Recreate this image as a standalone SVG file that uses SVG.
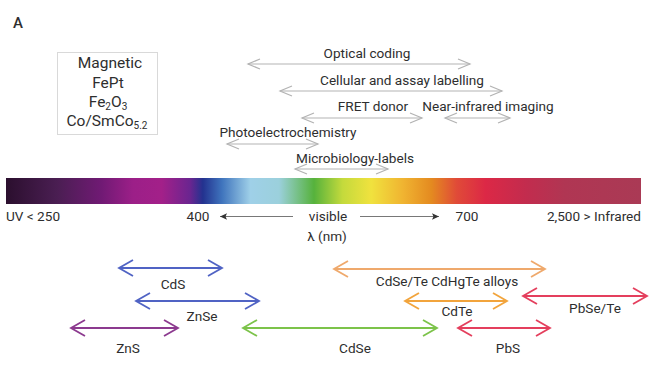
<svg xmlns="http://www.w3.org/2000/svg" width="650" height="385" viewBox="0 0 650 385">
<style>
text{font-family:Roboto,"Liberation Sans",sans-serif;fill:#2e2e2e;font-size:13.6px;text-anchor:middle}
.mag{font-size:15.5px}
.g{stroke:#b3b3b3;stroke-width:1.2;fill:none}
.c{stroke-width:1.8;fill:none}
</style>
<defs>
<linearGradient id="spec" x1="6" x2="641" y1="0" y2="0" gradientUnits="userSpaceOnUse">
<stop offset="0" stop-color="#2b0f2e"/>
<stop offset="0.08" stop-color="#4a1e52"/>
<stop offset="0.15" stop-color="#701a74"/>
<stop offset="0.2" stop-color="#9c1f88"/>
<stop offset="0.245" stop-color="#a32089"/>
<stop offset="0.29" stop-color="#6a2590"/>
<stop offset="0.31" stop-color="#23328f"/>
<stop offset="0.34" stop-color="#3f74bd"/>
<stop offset="0.385" stop-color="#9fd0e8"/>
<stop offset="0.43" stop-color="#9bd0dc"/>
<stop offset="0.485" stop-color="#56b23c"/>
<stop offset="0.53" stop-color="#c4da3c"/>
<stop offset="0.575" stop-color="#f0e23e"/>
<stop offset="0.625" stop-color="#f0b431"/>
<stop offset="0.67" stop-color="#e48a20"/>
<stop offset="0.71" stop-color="#e04a38"/>
<stop offset="0.755" stop-color="#dc2846"/>
<stop offset="0.82" stop-color="#c22c4e"/>
<stop offset="0.88" stop-color="#b03653"/>
<stop offset="1" stop-color="#aa3a55"/>
</linearGradient>
<marker id="mg" viewBox="-14 -7 16 14" refX="0" refY="0" markerWidth="16" markerHeight="14" markerUnits="userSpaceOnUse" orient="auto-start-reverse"><path d="M-12,-5 L0,0 L-12,5" fill="none" stroke="#b3b3b3" stroke-width="1.2"/></marker>
<marker id="mb" viewBox="-16 -10 18 20" refX="0" refY="0" markerWidth="18" markerHeight="20" markerUnits="userSpaceOnUse" orient="auto-start-reverse"><path d="M-14,-8 L0,0 L-14,8" fill="none" stroke="#5063c4" stroke-width="1.8"/></marker>
<marker id="mp" viewBox="-16 -10 18 20" refX="0" refY="0" markerWidth="18" markerHeight="20" markerUnits="userSpaceOnUse" orient="auto-start-reverse"><path d="M-14,-8 L0,0 L-14,8" fill="none" stroke="#8c3a8f" stroke-width="1.8"/></marker>
<marker id="mgr" viewBox="-16 -10 18 20" refX="0" refY="0" markerWidth="18" markerHeight="20" markerUnits="userSpaceOnUse" orient="auto-start-reverse"><path d="M-14,-8 L0,0 L-14,8" fill="none" stroke="#7cc34a" stroke-width="1.8"/></marker>
<marker id="mlo" viewBox="-16 -10 18 20" refX="0" refY="0" markerWidth="18" markerHeight="20" markerUnits="userSpaceOnUse" orient="auto-start-reverse"><path d="M-14,-8 L0,0 L-14,8" fill="none" stroke="#efa96c" stroke-width="1.8"/></marker>
<marker id="mo" viewBox="-16 -10 18 20" refX="0" refY="0" markerWidth="18" markerHeight="20" markerUnits="userSpaceOnUse" orient="auto-start-reverse"><path d="M-14,-8 L0,0 L-14,8" fill="none" stroke="#f2a43c" stroke-width="1.8"/></marker>
<marker id="mr" viewBox="-16 -10 18 20" refX="0" refY="0" markerWidth="18" markerHeight="20" markerUnits="userSpaceOnUse" orient="auto-start-reverse"><path d="M-14,-8 L0,0 L-14,8" fill="none" stroke="#e43f5d" stroke-width="1.8"/></marker>
<marker id="mv" viewBox="-8 -4 9 8" refX="0" refY="0" markerWidth="9" markerHeight="8" markerUnits="userSpaceOnUse" orient="auto-start-reverse"><path d="M-7,-3.2 L0,0 L-7,3.2 L-5.5,0 Z" fill="#333"/></marker>
</defs>
<rect width="650" height="385" fill="#fff"/>
<text x="13" y="28" style="font-size:15px;font-weight:500;text-anchor:start">A</text>

<g id="magnetic">
<rect x="57.5" y="52.5" width="100" height="82" fill="#fff" stroke="#d9d9d9" stroke-width="1"/>
<text class="mag" x="110" y="68">Magnetic</text>
<text class="mag" x="108" y="88">FePt</text>
<text class="mag" x="108" y="107">Fe<tspan font-size="10" dy="3">2</tspan><tspan dy="-3">O</tspan><tspan font-size="10" dy="3">3</tspan></text>
<text class="mag" x="107" y="126">Co/SmCo<tspan font-size="10" dy="3">5.2</tspan></text>
</g>

<g id="spectrum">
<rect x="6" y="178" width="635" height="26" fill="url(#spec)"/>
<text x="6" y="221" style="text-anchor:start">UV &lt; 250</text>
<text x="198" y="221">400</text>
<text x="328" y="221">visible</text>
<text x="467" y="221">700</text>
<text x="641" y="221" style="text-anchor:end">2,500 &gt; Infrared</text>
<text x="327" y="241">λ (nm)</text>
</g>

<g id="connectors">
<line x1="220" y1="216.5" x2="293" y2="216.5" stroke="#555" stroke-width="0.8" marker-start="url(#mv)"/>
<line x1="360" y1="216.5" x2="439" y2="216.5" stroke="#555" stroke-width="0.8" marker-end="url(#mv)"/>
<line class="g" x1="248" y1="64" x2="470" y2="64" marker-start="url(#mg)" marker-end="url(#mg)"/>
<line class="g" x1="280" y1="91" x2="502" y2="91" marker-start="url(#mg)" marker-end="url(#mg)"/>
<line class="g" x1="302" y1="118" x2="422" y2="118" marker-start="url(#mg)" marker-end="url(#mg)"/>
<line class="g" x1="445" y1="118" x2="510" y2="118" marker-start="url(#mg)" marker-end="url(#mg)"/>
<line class="g" x1="227" y1="144" x2="318" y2="144" marker-start="url(#mg)" marker-end="url(#mg)"/>
<line class="g" x1="295" y1="169" x2="388" y2="169" marker-start="url(#mg)" marker-end="url(#mg)"/>
<line class="c" stroke="#5063c4" x1="119" y1="268" x2="222" y2="268" marker-start="url(#mb)" marker-end="url(#mb)"/>
<line class="c" stroke="#5063c4" x1="136" y1="301" x2="259" y2="301" marker-start="url(#mb)" marker-end="url(#mb)"/>
<line class="c" stroke="#8c3a8f" x1="71" y1="328" x2="178" y2="328" marker-start="url(#mp)" marker-end="url(#mp)"/>
<line class="c" stroke="#7cc34a" x1="243" y1="328" x2="437" y2="328" marker-start="url(#mgr)" marker-end="url(#mgr)"/>
<line class="c" stroke="#efa96c" x1="334" y1="269" x2="545" y2="269" marker-start="url(#mlo)" marker-end="url(#mlo)"/>
<line class="c" stroke="#f2a43c" x1="405" y1="301" x2="507" y2="301" marker-start="url(#mo)" marker-end="url(#mo)"/>
<line class="c" stroke="#e43f5d" x1="523" y1="296" x2="647" y2="296" marker-start="url(#mr)" marker-end="url(#mr)"/>
<line class="c" stroke="#e43f5d" x1="458" y1="328" x2="550" y2="328" marker-start="url(#mr)" marker-end="url(#mr)"/>
</g>

<g id="optical-coding"><text x="367" y="58">Optical coding</text></g>
<g id="cellular"><text x="402" y="85">Cellular and assay labelling</text></g>
<g id="fret"><text x="373" y="111">FRET donor</text></g>
<g id="nir"><text x="488" y="111">Near-infrared imaging</text></g>
<g id="photoelectro"><text x="288" y="137">Photoelectrochemistry</text></g>
<g id="microbio"><text x="355" y="163">Microbiology-labels</text></g>

<g id="cds"><text x="173" y="289">CdS</text></g>
<g id="znse"><text x="202" y="321">ZnSe</text></g>
<g id="zns"><text x="128" y="353">ZnS</text></g>
<g id="cdse"><text x="355" y="353">CdSe</text></g>
<g id="cdsete"><text x="447" y="286">CdSe/Te CdHgTe alloys</text></g>
<g id="cdte"><text x="457" y="316">CdTe</text></g>
<g id="pbsete"><text x="595" y="313">PbSe/Te</text></g>
<g id="pbs"><text x="508" y="353">PbS</text></g>
</svg>
